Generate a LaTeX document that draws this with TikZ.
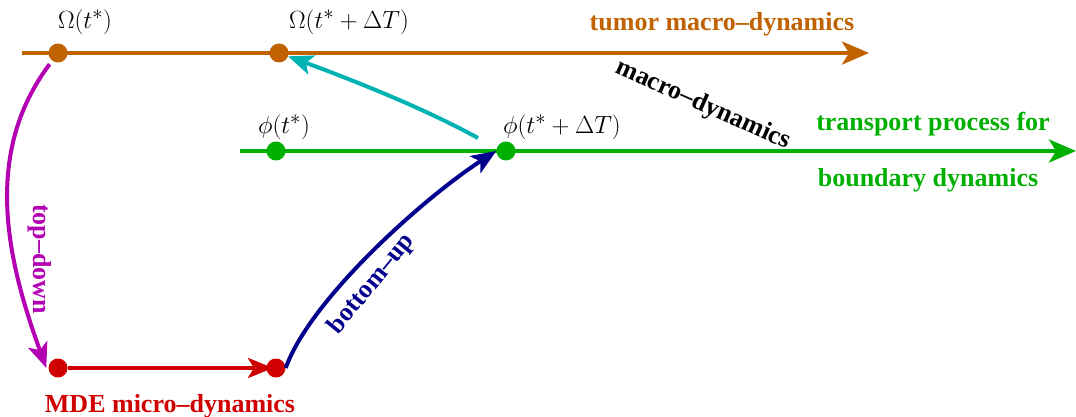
\documentclass[tikz,border=0pt]{standalone}
\usepackage{fontspec}
\setmainfont{Liberation Serif}
\usetikzlibrary{arrows.meta}
\definecolor{corange}{RGB}{192,98,0}
\definecolor{cgreen}{RGB}{0,176,0}
\definecolor{cred}{RGB}{208,0,0}
\definecolor{cmag}{RGB}{178,0,178}
\definecolor{cnavy}{RGB}{0,0,140}
\definecolor{ccyan}{RGB}{0,178,178}
\begin{document}
\begin{tikzpicture}[x=1pt,y=-1pt,
  font=\fontsize{26}{30}\selectfont,
  dot/.style={circle,fill=#1,inner sep=0pt,minimum size=19pt},
  bigtip/.style={-{Stealth[length=27pt,width=23pt,inset=7pt]}},
  smalltip/.style={-{Stealth[length=25pt,width=20pt,inset=6pt]}},
  axisline/.style={line width=4pt,draw=#1,bigtip},
  conn/.style={line width=4pt,draw=#1,smalltip},
  lab/.style={text=#1,font=\fontsize{26}{30}\selectfont\bfseries},
  mlab/.style={inner sep=0pt,font=\fontsize{27.5}{32}\selectfont}]
\useasboundingbox (0,0) rectangle (1076,417);
% axes
\coordinate (oS) at (22,53);
\coordinate (oE) at (869,53);
\coordinate (gS) at (240,151);
\coordinate (gE) at (1076,151);
\draw[axisline=corange] (oS) -- (oE);
\draw[axisline=cgreen] (gS) -- (gE);
% dots
\node[dot=corange] (o1) at (58,53) {};
\node[dot=corange] (o2) at (279,53) {};
\node[dot=cgreen] (g1) at (276,151) {};
\node[dot=cgreen] (g2) at (506,151) {};
\node[dot=cred] (r1) at (58,368) {};
\node[dot=cred] (r2) at (276,368) {};
% red arrow
\draw[conn=cred, shorten >=3pt] (r1) -- (r2.center);
% magenta top-down
\draw[conn=cmag, shorten <=14pt] (o1.center) .. controls +(-75,100) and +(-40,-110) .. ([xshift=-2pt]r1.west);
% navy bottom-up
\draw[conn=cnavy] (r2.east) .. controls +(25,-70) and +(-70,45) .. (g2.west);
% cyan macro
\coordinate (cs) at (478,138);
\draw[conn=ccyan] (cs) .. controls +(-60,-33) and +(60,22) .. (o2);
% math labels
\node[mlab] (lo1) at (85,22) {$\Omega(t^*)$};
\node[mlab] (lo2) at (349,22) {$\Omega(t^*+\Delta T)$};
\node[mlab] (lg1) at (284,127) {$\phi(t^*)$};
\node[mlab] (lg2) at (562,127) {$\phi(t^*+\Delta T)$};
% text labels
\node[lab=corange] (ttumor) at (722,24) {tumor macro–dynamics};
\node[lab=cgreen] (ttrans) at (933,124) {transport process for};
\node[lab=cgreen] (tbound) at (928,180) {boundary dynamics};
\node[lab=cred] (tmde) at (170,406) {MDE micro–dynamics};
\node[lab=black, rotate=-24] (tmacro) at (703,105) {macro–dynamics};
\node[lab=cmag, rotate=-90] (ttop) at (40,259) {top–down};
\node[lab=cnavy, rotate=51] (tbot) at (372,284) {bottom–up};
\end{tikzpicture}
\end{document}
